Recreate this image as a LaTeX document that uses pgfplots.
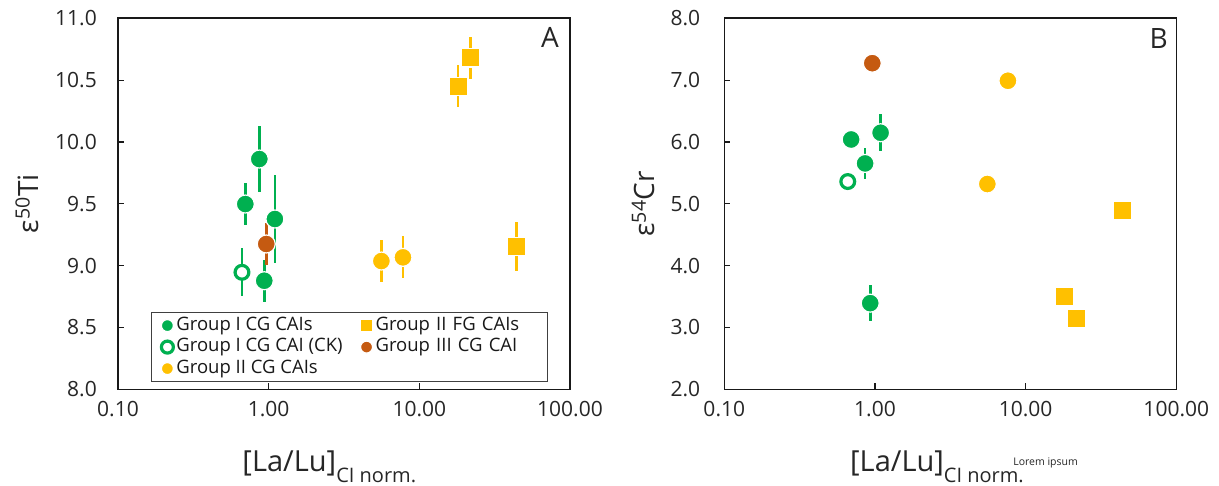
\documentclass[border=0pt]{standalone}
\usepackage{fontspec}
\setmainfont{Open Sans}
\usepackage{pgfplots}
\pgfplotsset{compat=1.18}
\definecolor{cgreen}{RGB}{0,176,80}
\definecolor{cyellow}{RGB}{255,192,0}
\definecolor{cbrown}{RGB}{197,90,17}
\newcommand{\fs}[1]{\fontsize{#1bp}{#1bp}\selectfont}
\begin{document}
\begin{tikzpicture}
\useasboundingbox (-118bp,-96.7bp) rectangle (1101bp,389.3bp);
% ---------------- Panel A ----------------
\begin{axis}[
  scale only axis, width=452bp, height=371bp,
  at={(0bp,0bp)}, anchor=south west,
  xmode=log, xmin=0.1, xmax=100,
  xtick={0.1,1,10,100}, xticklabels={0.10,1.00,10.00,100.00},
  xminorticks=false, yminorticks=false,
  tick pos=left, tick align=inside,
  major tick length=6bp,
  axis line style={line width=1.6bp, black!90},
  every tick/.style={line width=1.2bp, black!90},
  ticklabel style={font=\fs{21}, text=black!85, inner sep=0pt},
  xticklabel style={anchor=north, yshift=-12bp},
  /pgf/number format/assume math mode=true,
  yticklabel style={anchor=east, xshift=-21bp, /pgf/number format/fixed, /pgf/number format/fixed zerofill, /pgf/number format/precision=1},
  clip=false,
  ymin=8, ymax=11, ytick={8,8.5,9,9.5,10,10.5,11},
  ylabel={ε\textsuperscript{50}Ti},
  ylabel style={font=\fs{28}, text=black!85, at={(axis description cs:-0.201,0.5)}, anchor=center, inner sep=0pt},
  xlabel={[La/Lu]{\fs{20}\raisebox{-11bp}{CI norm.}}},
  xlabel style={font=\fs{29}, text=black!85, at={(axis description cs:0.275,0)}, anchor=base west, yshift=-82bp, inner sep=0pt},
  legend columns=2, legend cell align=left,
  legend image post style={mark size=6bp},
  legend style={at={(rel axis cs:0.073,0.0197)}, anchor=south west,
    draw=black!75, line width=0.8bp, font=\fs{18.5}, text=black!90,
    inner xsep=10bp, inner ysep=2.5bp, row sep=0.5bp,
    nodes={inner sep=2bp, text height=13bp, text depth=4bp},
    /tikz/every odd column/.style={column sep=1bp},
    /tikz/column 2/.style={column sep=16bp},
    /tikz/column 4/.style={nodes={text width=160bp}}},
]
\addplot[only marks, mark=*, mark size=9bp, mark options={fill=cgreen, draw=white, line width=1.2bp},
  error bars/.cd, y dir=both, y explicit, error mark=none, error bar style={line width=2.6bp, cgreen}]
  table[x index=0, y index=1, y error index=2] {
0.867 9.862 0.27
0.70  9.498 0.171
1.10  9.377 0.356
0.935 8.878 0.169
};
\addlegendentry{Group I CG CAIs}
\addplot[only marks, mark=square*, mark size=9.1bp, mark options={fill=cyellow, draw=white, line width=1.2bp},
  error bars/.cd, y dir=both, y explicit, error mark=none, error bar style={line width=2.6bp, cyellow}]
  table[x index=0, y index=1, y error index=2] {
21.8 10.68 0.171
18.1 10.45 0.17
44.0 9.153 0.197
};
\addlegendentry{Group II FG CAIs}
\addplot[only marks, mark=*, mark size=6.9bp, mark options={fill=white, draw=cgreen, line width=3.2bp},
  error bars/.cd, y dir=both, y explicit, error mark=none, error bar style={line width=2.6bp, cgreen}]
  table[x index=0, y index=1, y error index=2] {
0.665 8.946 0.195
};
\addlegendentry{Group I CG CAI (CK)}
\addplot[only marks, mark=*, mark size=9bp, mark options={fill=cbrown, draw=white, line width=1.2bp},
  error bars/.cd, y dir=both, y explicit, error mark=none, error bar style={line width=2.6bp, cbrown}]
  table[x index=0, y index=1, y error index=2] {
0.964 9.175 0.17
};
\addlegendentry{Group III CG CAI}
\addplot[only marks, mark=*, mark size=9bp, mark options={fill=cyellow, draw=white, line width=1.2bp},
  error bars/.cd, y dir=both, y explicit, error mark=none, error bar style={line width=2.6bp, cyellow}]
  table[x index=0, y index=1, y error index=2] {
5.60 9.037 0.171
7.79 9.067 0.171
};
\addlegendentry{Group II CG CAIs}
\node[anchor=base east, font=\fs{28}, text=black!85, inner sep=0pt] at (rel axis cs:0.9757,0.92) {A};
\end{axis}
% ---------------- Panel B ----------------
\begin{axis}[
  scale only axis, width=452bp, height=371bp,
  at={(606.3bp,0bp)}, anchor=south west,
  xmode=log, xmin=0.1, xmax=100,
  xtick={0.1,1,10,100}, xticklabels={0.10,1.00,10.00,100.00},
  xminorticks=false, yminorticks=false,
  tick pos=left, tick align=inside,
  major tick length=6bp,
  axis line style={line width=1.6bp, black!90},
  every tick/.style={line width=1.2bp, black!90},
  ticklabel style={font=\fs{21}, text=black!85, inner sep=0pt},
  xticklabel style={anchor=north, yshift=-12bp},
  /pgf/number format/assume math mode=true,
  yticklabel style={anchor=east, xshift=-24bp, /pgf/number format/fixed, /pgf/number format/fixed zerofill, /pgf/number format/precision=1},
  clip=false,
  ymin=2, ymax=8, ytick={2,3,4,5,6,7,8},
  ylabel={ε\textsuperscript{54}Cr},
  ylabel style={font=\fs{28}, text=black!85, at={(axis description cs:-0.179,0.5)}, anchor=center, inner sep=0pt},
  xlabel={[La/Lu]{\fs{20}\raisebox{-11bp}{CI norm.}}},
  xlabel style={font=\fs{29}, text=black!85, at={(axis description cs:0.278,0)}, anchor=base west, yshift=-82bp, inner sep=0pt},
]
\addplot[only marks, mark=*, mark size=9bp, mark options={fill=cgreen, draw=white, line width=1.2bp},
  error bars/.cd, y dir=both, y explicit, error mark=none, error bar style={line width=2.6bp, cgreen}]
  table[x index=0, y index=1, y error index=2] {
1.09  6.149 0.30
0.695 6.04  0.05
0.86  5.653 0.245
0.93  3.393 0.29
};
\addplot[only marks, mark=*, mark size=6.9bp, mark options={fill=white, draw=cgreen, line width=3.2bp},
  error bars/.cd, y dir=both, y explicit, error mark=none, error bar style={line width=2.6bp, cgreen}]
  table[x index=0, y index=1, y error index=2] {
0.66 5.36 0.13
};
\addplot[only marks, mark=*, mark size=9bp, mark options={fill=cbrown, draw=white, line width=1.2bp},
  error bars/.cd, y dir=both, y explicit, error mark=none, error bar style={line width=2.6bp, cbrown}]
  table[x index=0, y index=1, y error index=2] {
0.96 7.274 0.15
};
\addplot[only marks, mark=*, mark size=9bp, mark options={fill=cyellow, draw=white, line width=1.2bp}]
  table[x index=0, y index=1] {
5.57 5.32
7.63 6.99
};
\addplot[only marks, mark=square*, mark size=9.1bp, mark options={fill=cyellow, draw=white, line width=1.2bp}]
  table[x index=0, y index=1] {
44.0 4.894
18.0 3.496
21.6 3.146
};
\node[anchor=base east, font=\fs{28}, text=black!85, inner sep=0pt] at (rel axis cs:0.9816,0.919) {B};
\node[anchor=base west, font=\fs{10.5}, text=black!85, inner sep=0pt] at (rel axis cs:0.639,0) [yshift=-76bp] {Lorem ipsum};
\end{axis}
\end{tikzpicture}
\end{document}
